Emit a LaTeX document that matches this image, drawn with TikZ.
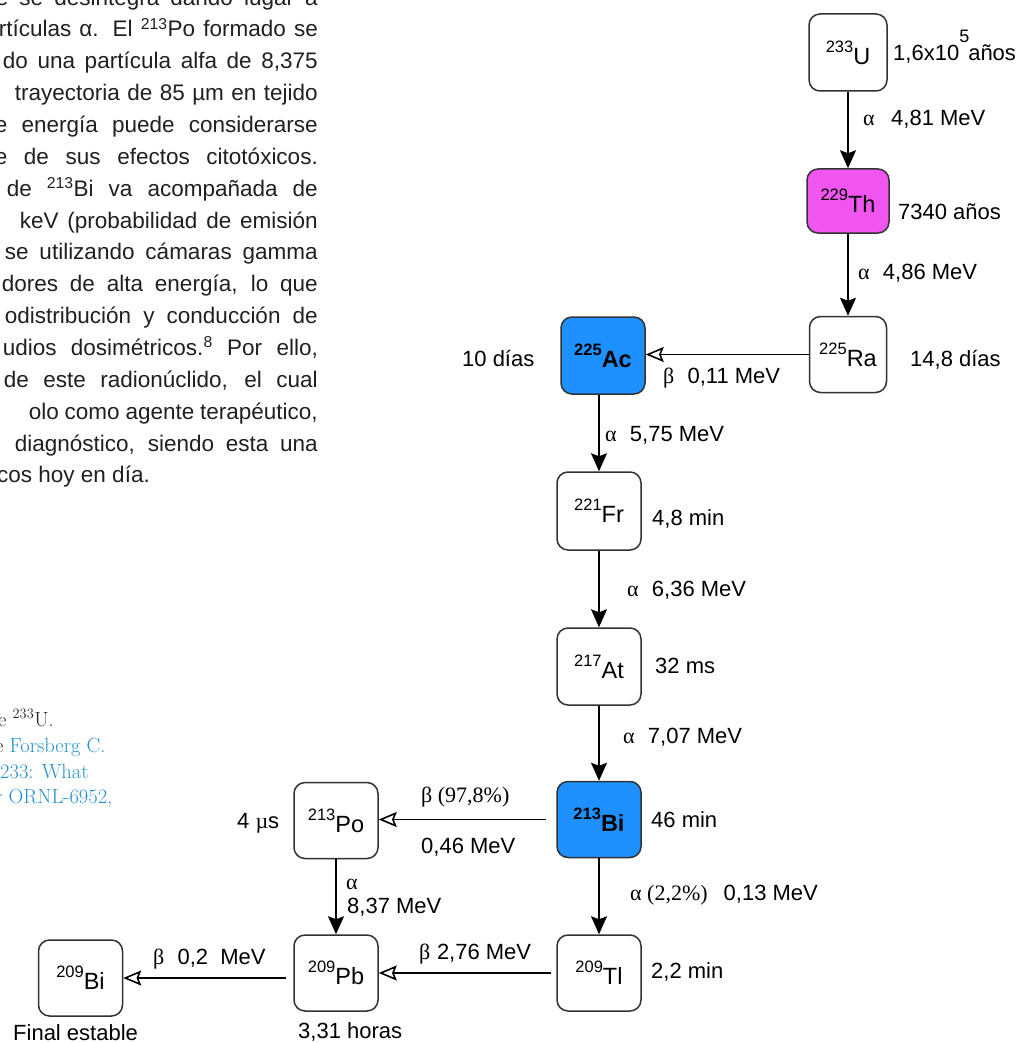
\documentclass[tikz,border=0pt]{standalone}
\usepackage{fontspec}
\setmainfont{Liberation Sans}
\newfontfamily\serifgr{Liberation Serif}
\newcommand\lmr{\fontfamily{lmr}\selectfont}
\newcommand\iso[2]{\raisebox{12pt}{\fontsize{16.5}{17}\selectfont #1}#2}
\usetikzlibrary{arrows.meta,calc}
\definecolor{nucblue}{RGB}{30,144,255}
\definecolor{thmag}{RGB}{240,85,240}
\definecolor{boxline}{RGB}{50,50,50}
\definecolor{txtgray}{RGB}{35,31,32}
\definecolor{refblue}{RGB}{35,145,205}
\begin{document}
\begin{tikzpicture}[x=1pt,y=-1pt,
  nuc/.style={draw=boxline, line width=1.5pt, rounded corners=11pt, inner sep=0pt,
    minimum width=84pt, minimum height=76pt, font=\fontsize{23.5}{25}\selectfont},
  lbl/.style={anchor=west, inner sep=0pt, font=\fontsize{22}{26}\selectfont,
    text height=16pt, text depth=0pt},
  para/.style={anchor=base east, inner sep=0pt, font=\fontsize{22.5}{26}\selectfont, text=txtgray},
  refline/.style={anchor=base west, inner sep=0pt, font=\lmr\fontsize{20.5}{24}\selectfont},
  varrow/.style={line width=1.5pt, -{Stealth[length=18pt,width=16pt,inset=3pt]}},
  harrow/.style={line width=1.5pt, -{Stealth[open,length=18pt,width=15pt,inset=3pt,line width=1.6pt]}}
]
\useasboundingbox (0,0) rectangle (1023,1043);
\fill[white] (0,0) rectangle (1023,1043);

% paragraph fragment (cropped page)
\node[para] (p1) at (318,6) {\makebox[322pt][s]{e se desintegra dando lugar a}};
\node[para] (p2) at (318,36.9) {\makebox[319pt][s]{rtículas α. El \textsuperscript{213}Po formado se}};
\node[para] (p3) at (318,68.7) {\makebox[315pt][s]{do una partícula alfa de 8,375}};
\node[para] (p4) at (318,100.6) {\makebox[303pt][s]{trayectoria de 85 µm en tejido}};
\node[para] (p5) at (318,132.4) {\makebox[323pt][s]{e energía puede considerarse}};
\node[para] (p6) at (318,164.3) {\makebox[323pt][s]{e de sus efectos citotóxicos.}};
\node[para] (p7) at (318,196.2) {\makebox[311pt][s]{de \textsuperscript{213}Bi va acompañada de}};
\node[para] (p8) at (318,228.0) {\makebox[298pt][s]{keV (probabilidad de emisión}};
\node[para] (p9) at (318,259.9) {\makebox[313pt][s]{se utilizando cámaras gamma}};
\node[para] (p10) at (318,291.7) {\makebox[316pt][s]{dores de alta energía, lo que}};
\node[para] (p11) at (318,323.6) {\makebox[313pt][s]{odistribución y conducción de}};
\node[para] (p12) at (318,355.5) {\makebox[315pt][s]{udios dosimétricos.\textsuperscript{8} Por ello,}};
\node[para] (p13) at (318,387.3) {\makebox[314pt][s]{de este radionúclido, el cual}};
\node[para] (p14) at (318,419.2) {\makebox[289pt][s]{olo como agente terapéutico,}};
\node[para] (p15) at (318,451.0) {\makebox[303pt][s]{diagnóstico, siendo esta una}};
\node[para, anchor=base west] (p16) at (-3,482.9) {cos hoy en día.};

% reference fragment
\node[refline, text=txtgray] (r1) at (-2,726) {e \textsuperscript{233}U.};
\node[refline, text=txtgray] (r2) at (-5,752) {e \textcolor{refblue}{Forsberg C.}};
\node[refline, text=refblue] (r3) at (0,778) {233: What};
\node[refline, text=refblue] (r4) at (-5,803) {r ORNL-6952,};

% nuclide boxes
\node[nuc, minimum width=78pt, minimum height=77pt] (U) at (848,52.5) {\iso{233}{U}};
\node[nuc, fill=thmag, minimum width=82pt, minimum height=64pt] (Th) at (848,201) {\iso{229}{Th}};
\node[nuc, minimum width=77pt, minimum height=76pt] (Ra) at (848,354.5) {\iso{225}{Ra}};
\node[nuc, fill=nucblue, minimum height=77pt] (Ac) at (603,355.5) {\bfseries\iso{225}{Ac}};
\node[nuc, minimum height=78pt] (Fr) at (599,511) {\iso{221}{Fr}};
\node[nuc, minimum height=77pt] (At) at (599,666.5) {\iso{217}{At}};
\node[nuc, fill=nucblue] (Bi) at (599,819.5) {\bfseries\iso{213}{Bi}};
\node[nuc] (Tl) at (599,973) {\iso{209}{Tl}};
\node[nuc] (Po) at (336,820.5) {\iso{213}{Po}};
\node[nuc] (Pb) at (336,973) {\iso{209}{Pb}};
\node[nuc] (Bif) at (80.5,978) {\iso{209}{Bi}};

% connectors
\draw[varrow] (U.south) -- (Th.north);
\draw[varrow] (Th.south) -- (Ra.north);
\draw[harrow] (Ra.west) -- (Ac.east |- Ra.west);
\draw[varrow] (Ac.south -| Fr.north) -- (Fr.north);
\draw[varrow] (Fr.south) -- (At.north);
\draw[varrow] (At.south) -- (Bi.north);
\draw[varrow] (Bi.south) -- (Tl.north);
\draw[harrow] ($(Bi.west)+(-10pt,0)$) -- (Po.east |- Bi.west);
\draw[varrow] (Po.south) -- (Pb.north);
\draw[harrow] ($(Tl.west)+(-5pt,0)$) -- (Pb.east |- Tl.west);
\draw[harrow] ($(Pb.west |- Bif.east)+(-7pt,0)$) -- (Bif.east);

% labels
\node[lbl] (tU) at (893,53) {1,6x10\raisebox{18pt}{\fontsize{18}{18}\selectfont 5}\kern-1pt años};
\node[lbl] (dU) at (863,118) {{\serifgr α}\hspace{0.75em}4,81 MeV};
\node[lbl] (tTh) at (898,211) {7340 años};
\node[lbl] (dTh) at (858,271) {{\serifgr α}\hspace{0.6em}4,86 MeV};
\node[lbl] (tRa) at (910,358) {14,8 días};
\node[lbl] (tAc) at (462,358) {10 días};
\node[lbl] (dRa) at (663,375) {{\serifgr β}\hspace{0.6em}0,11 MeV};
\node[lbl] (dAc) at (605,433) {{\serifgr α}\hspace{0.6em}5,75 MeV};
\node[lbl] (tFr) at (652,517) {4,8 min};
\node[lbl] (dFr) at (627,588) {{\serifgr α}\hspace{0.6em}6,36 MeV};
\node[lbl] (tAt) at (655,665) {32 ms};
\node[lbl] (dAt) at (623,735) {{\serifgr α}\hspace{0.6em}7,07 MeV};
\node[lbl] (tBi) at (651,819) {46 min};
\node[lbl] (dBa) at (421,794) {\serifgr β (97,8\%)};
\node[lbl] (dBb) at (421,845) {0,46 MeV};
\node[lbl] (tPo) at (237,820) {4 {\serifgr µ}s};
\node[lbl] (dBc) at (630,892) {{\serifgr α (2,2\%)}\hspace{16pt}0,13 MeV};
\node[lbl] (dPa) at (346,881) {\serifgr α};
\node[lbl] (dPb) at (347,905) {8,37 MeV};
\node[lbl] (dTl) at (419,951) {{\serifgr β}\hspace{0.3em}2,76 MeV};
\node[lbl] (tTl) at (651,970) {2,2 min};
\node[lbl] (tPb) at (298,1030) {3,31 horas};
\node[lbl] (dPbB) at (153,956) {{\serifgr β}\hspace{0.6em}0,2\hspace{0.55em}MeV};
\node[lbl] (tBif) at (13,1032) {Final estable};
\end{tikzpicture}
\end{document}
